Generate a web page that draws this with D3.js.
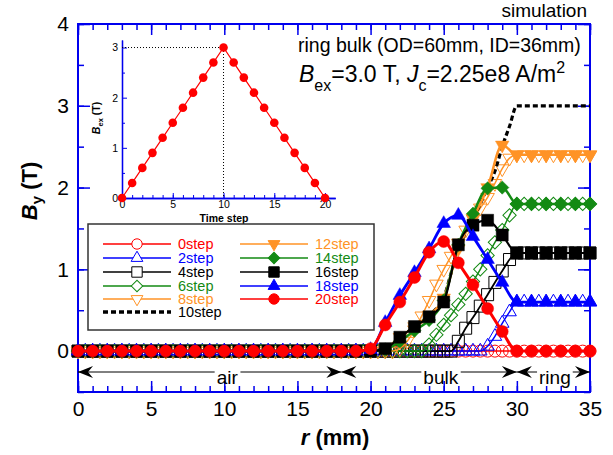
<!DOCTYPE html>
<html lang="en">
<head>
<meta charset="UTF-8">
<title>B_y profiles, ring bulk simulation</title>
<script src="https://d3js.org/d3.v7.min.js"></script>
<style>
  body { margin: 0; background: #fff; }
  svg { display: block; font-family: "Liberation Sans", Arial, Helvetica, sans-serif; }
</style>
</head>
<body>
<svg id="chart" width="613" height="455"></svg>
<script>
// radius grids (mm)
const rHalf = [0,0.5,1,1.5,2,2.5,3,3.5,4,4.5,5,5.5,6,6.5,7,7.5,8,8.5,9,9.5,
  10,10.5,11,11.5,12,12.5,13,13.5,14,14.5,15,15.5,16,16.5,17,17.5,18,18.5,19,19.5,
  20,20.5,21,21.5,22,22.5,23,23.5,24,24.5,25,25.5,26,26.5,27,27.5,28,28.5,29,29.5,
  30,30.5,31,31.5,32,32.5,33,33.5,34,34.5,35];
const rInt = [0,1,2,3,4,5,6,7,8,9,10,11,12,13,14,15,16,17,18,19,
  20,21,22,23,24,25,26,27,28,29,30,31,32,33,34,35];

// increasing field (on rHalf)
const step0 = [0,0,0,0,0,0,0,0,0,0, 0,0,0,0,0,0,0,0,0,0, 0,0,0,0,0,0,0,0,0,0, 0,0,0,0,0,0,0,0,0,0,
  0,0,0,0,0,0,0,0,0,0, 0,0,0,0,0,0,0,0,0,0,
  0,0,0,0,0,0,0,0,0,0,0];
const step2 = [0,0,0,0,0,0,0,0,0,0, 0,0,0,0,0,0,0,0,0,0, 0,0,0,0,0,0,0,0,0,0, 0,0,0,0,0,0,0,0,0,0,
  0,0,0,0,0,0,0,0,0,0, 0,0,0,0,0,0,0.06,0.18,0.34,0.48,
  0.6,0.6,0.6,0.6,0.6,0.6,0.6,0.6,0.6,0.6,0.6];
const step4 = [0,0,0,0,0,0,0,0,0,0, 0,0,0,0,0,0,0,0,0,0, 0,0,0,0,0,0,0,0,0,0, 0,0,0,0,0,0,0,0,0,0,
  0,0,0,0,0,0,0,0,0,0, 0,0,0.12,0.28,0.41,0.55,0.69,0.84,0.98,1.12,
  1.2,1.2,1.2,1.2,1.2,1.2,1.2,1.2,1.2,1.2,1.2];
const step6 = [0,0,0,0,0,0,0,0,0,0, 0,0,0,0,0,0,0,0,0,0, 0,0,0,0,0,0,0,0,0,0, 0,0,0,0,0,0,0,0,0,0,
  0,0,0,0,0,0,0,0,0.08,0.2, 0.32,0.44,0.57,0.7,0.85,1.0,1.17,1.33,1.48,1.66,
  1.8,1.8,1.8,1.8,1.8,1.8,1.8,1.8,1.8,1.8,1.8];
const step8 = [0,0,0,0,0,0,0,0,0,0, 0,0,0,0,0,0,0,0,0,0, 0,0,0,0,0,0,0,0,0,0, 0,0,0,0,0,0,0,0,0,0,
  0,0,0,0,0.03,0.12,0.26,0.43,0.62,0.82, 1.0,1.16,1.32,1.48,1.62,1.75,1.88,2.05,2.23,2.36,
  2.4,2.4,2.4,2.4,2.4,2.4,2.4,2.4,2.4,2.4,2.4];
const step10 = [0,0,0,0,0,0,0,0,0,0, 0,0,0,0,0,0,0,0,0,0, 0,0,0,0,0,0,0,0,0,0, 0,0,0,0,0,0,0,0,0,0,
  0,0.01,0.03,0.09,0.17,0.23,0.3,0.36,0.44,0.52, 0.65,0.95,1.25,1.45,1.62,1.8,2.0,2.2,2.5,2.75,
  3,3,3,3,3,3,3,3,3,3,3];

// decreasing field (on rInt)
const step12 = [0,0,0,0,0,0,0,0,0,0, 0,0,0,0,0,0,0,0,0,0,
  0,0.03,0.17,0.3,0.44,0.65,1.25,1.62,2.0,2.52, 2.4,2.4,2.4,2.4,2.4,2.4];
const step14 = [0,0,0,0,0,0,0,0,0,0, 0,0,0,0,0,0,0,0,0,0,
  0,0.02,0.12,0.25,0.38,0.62,1.3,1.68,1.99,2.0, 1.8,1.8,1.8,1.8,1.8,1.8];
const step16 = [0,0,0,0,0,0,0,0,0,0, 0,0,0,0,0,0,0,0,0,0,
  0,0.03,0.17,0.3,0.42,0.6,1.3,1.54,1.6,1.42, 1.2,1.2,1.2,1.2,1.2,1.2];
const step18 = [0,0,0,0,0,0,0,0,0,0, 0,0,0,0,0,0,0,0,0,0,
  0.02,0.35,0.68,0.96,1.25,1.56,1.66,1.4,1.12,0.84, 0.6,0.6,0.6,0.6,0.6,0.6];
const step20 = [0,0,0,0,0,0,0,0,0,0, 0,0,0,0,0,0,0,0,0,0,
  0.03,0.32,0.6,0.9,1.21,1.34,1.08,0.81,0.52,0.24, 0,0,0,0,0,0];

const stepNames = ["0step","2step","4step","6step","8step","10step","12step","14step","16step","18step","20step"];

// inset: applied field per time step
const timeSteps = [0,1,2,3,4,5,6,7,8,9,10,11,12,13,14,15,16,17,18,19,20];
const bexValues = [0,0.3,0.6,0.9,1.2,1.5,1.8,2.1,2.4,2.7,3.0,2.7,2.4,2.1,1.8,1.5,1.2,0.9,0.6,0.3,0];

// annotation regions under the curves
const regionNames = ["air","bulk","ring"];
const regionFrom = [0,18,30];
const regionTo = [18,30,35];
const regionLabelAt = [10.2,24.8,32.6];

const xTicks = [0,5,10,15,20,25,30,35];
const yTicks = [0,1,2,3,4];

const RED = "#ff0000", BLUE = "#0000ff", BLACK = "#000000", GREEN = "#138a13", ORANGE = "#ff9326";
const AXIS = "#0000ee";

const series = [
  {name: stepNames[0],  r: rHalf, v: step0,  color: RED,    mark: "circle",   fill: false, w: 1.5},
  {name: stepNames[1],  r: rHalf, v: step2,  color: BLUE,   mark: "triUp",    fill: false, w: 1.5},
  {name: stepNames[2],  r: rHalf, v: step4,  color: BLACK,  mark: "square",   fill: false, w: 1.8},
  {name: stepNames[3],  r: rHalf, v: step6,  color: GREEN,  mark: "diamond",  fill: false, w: 1.5},
  {name: stepNames[4],  r: rHalf, v: step8,  color: ORANGE, mark: "triDown",  fill: false, w: 1.5},
  {name: stepNames[5],  r: rHalf, v: step10, color: BLACK,  mark: null,       fill: false, w: 3.2, dash: "5,3"},
  {name: stepNames[6],  r: rInt,  v: step12, color: ORANGE, mark: "triDown",  fill: true,  w: 2.5},
  {name: stepNames[7],  r: rInt,  v: step14, color: GREEN,  mark: "diamond",  fill: true,  w: 2.5},
  {name: stepNames[8],  r: rInt,  v: step16, color: BLACK,  mark: "square",   fill: true,  w: 2.2},
  {name: stepNames[9],  r: rInt,  v: step18, color: BLUE,   mark: "triUp",    fill: true,  w: 2.8},
  {name: stepNames[10], r: rInt,  v: step20, color: RED,    mark: "circle",   fill: true,  w: 3}
];

const svg = d3.select("#chart");
const x = d3.scaleLinear().domain([0, 35]).range([78, 590]);
const y = d3.scaleLinear().domain([-0.5, 4]).range([392, 24]);

function symbolPath(mark, k) {
  // k scales marker size (legend uses smaller ones)
  if (mark === "circle") return d3.symbol(d3.symbolCircle, 113 * k)();
  if (mark === "square") return d3.symbol(d3.symbolSquare, 144 * k)();
  if (mark === "diamond") return d3.symbol(d3.symbolSquare, 88 * k)();
  return d3.symbol(d3.symbolTriangle, 80 * k)();
}
function symbolRot(mark) {
  if (mark === "diamond") return 45;
  if (mark === "triDown") return 180;
  return 0;
}

// ---- main axes frame and ticks
const axes = svg.append("g");
function styleAxis(sel) {
  sel.select(".domain").remove();
  sel.selectAll(".tick line").attr("stroke", AXIS).attr("stroke-width", 1.5);
  sel.selectAll(".tick text").attr("fill", "#000").style("font-size", "21px")
     .style("font-family", "'Liberation Sans', Arial, sans-serif");
}
const xMinor = d3.range(0, 36, 1);
const yMinor = d3.range(-0.5, 4.01, 0.5);

axes.append("g").attr("transform", "translate(0,392)")
  .call(d3.axisBottom(x).tickValues(xMinor).tickSizeInner(-6).tickSizeOuter(0).tickFormat(""))
  .call(styleAxis);
axes.append("g").attr("transform", "translate(0,392)")
  .call(d3.axisBottom(x).tickValues(xTicks).tickSizeInner(-11).tickSizeOuter(0).tickPadding(9).tickFormat(d3.format("d")))
  .call(styleAxis);
axes.append("g").attr("transform", "translate(0,24)")
  .call(d3.axisTop(x).tickValues(xMinor).tickSizeInner(-6).tickSizeOuter(0).tickFormat(""))
  .call(styleAxis);
axes.append("g").attr("transform", "translate(0,24)")
  .call(d3.axisTop(x).tickValues(xTicks).tickSizeInner(-11).tickSizeOuter(0).tickFormat(""))
  .call(styleAxis);
axes.append("g").attr("transform", "translate(78,0)")
  .call(d3.axisLeft(y).tickValues(yMinor).tickSizeInner(-6).tickSizeOuter(0).tickFormat(""))
  .call(styleAxis);
axes.append("g").attr("transform", "translate(78,0)")
  .call(d3.axisLeft(y).tickValues(yTicks).tickSizeInner(-12).tickSizeOuter(0).tickPadding(9).tickFormat(d3.format("d")))
  .call(styleAxis);
axes.append("g").attr("transform", "translate(590,0)")
  .call(d3.axisRight(y).tickValues(yMinor).tickSizeInner(-6).tickSizeOuter(0).tickFormat(""))
  .call(styleAxis);
axes.append("g").attr("transform", "translate(590,0)")
  .call(d3.axisRight(y).tickValues(yTicks).tickSizeInner(-12).tickSizeOuter(0).tickFormat(""))
  .call(styleAxis);
axes.append("rect").attr("x", 78).attr("y", 24).attr("width", 512).attr("height", 368)
  .attr("fill", "none").attr("stroke", AXIS).attr("stroke-width", 2);

// axis titles
svg.append("text").attr("x", 335).attr("y", 445).attr("text-anchor", "middle")
  .style("font-size", "22px").style("font-weight", "bold")
  .call(t => {
    t.append("tspan").style("font-style", "italic").text("r");
    t.append("tspan").text(" (mm)");
  });
svg.append("text").attr("transform", "translate(37,191) rotate(-90)").attr("text-anchor", "middle")
  .style("font-size", "22px").style("font-weight", "bold")
  .call(t => {
    t.append("tspan").style("font-style", "italic").text("B");
    t.append("tspan").attr("dy", 5).style("font-size", "15px").text("y");
    t.append("tspan").attr("dy", -5).text(" (T)");
  });

// ---- inset: applied field vs time step
const xi = d3.scaleLinear().domain([0, 21]).range([122, 335.2]);
const yi = d3.scaleLinear().domain([0, 3.15]).range([198, 40]);
const inset = svg.append("g");
function styleInset(sel) {
  sel.select(".domain").attr("stroke", AXIS).attr("stroke-width", 1.3);
  sel.selectAll(".tick line").attr("stroke", AXIS).attr("stroke-width", 1);
  sel.selectAll(".tick text").attr("fill", "#000").style("font-size", "10.5px")
     .style("font-family", "'Liberation Sans', Arial, sans-serif");
}
inset.append("g").attr("transform", "translate(0,198)")
  .call(d3.axisBottom(xi).tickValues(d3.range(0, 21, 1)).tickSizeInner(-3).tickSizeOuter(0).tickFormat(""))
  .call(styleInset);
inset.append("g").attr("transform", "translate(0,198)")
  .call(d3.axisBottom(xi).tickValues([0,5,10,15,20]).tickSizeInner(-5).tickSizeOuter(0).tickPadding(3).tickFormat(d3.format("d")))
  .call(styleInset);
inset.append("g").attr("transform", "translate(122,0)")
  .call(d3.axisLeft(yi).tickValues([0.5,1.5,2.5]).tickSizeInner(-3).tickSizeOuter(0).tickFormat(""))
  .call(styleInset);
inset.append("g").attr("transform", "translate(122,0)")
  .call(d3.axisLeft(yi).tickValues([0,1,2,3]).tickSizeInner(-5).tickSizeOuter(0).tickPadding(4).tickFormat(d3.format("d")))
  .call(styleInset);

const peakIdx = d3.maxIndex(bexValues);
inset.append("path")
  .attr("d", `M${xi(0)},${yi(bexValues[peakIdx])}H${xi(timeSteps[peakIdx])}V${yi(0)}`)
  .attr("fill", "none").attr("stroke", "#000").attr("stroke-width", 1).attr("stroke-dasharray", "1,2");
inset.append("path").datum(timeSteps)
  .attr("d", d3.line().x(d => xi(d)).y((d, i) => yi(bexValues[i])))
  .attr("fill", "none").attr("stroke", RED).attr("stroke-width", 1.2);
inset.selectAll("circle.bex").data(timeSteps).join("circle")
  .attr("cx", d => xi(d)).attr("cy", (d, i) => yi(bexValues[i])).attr("r", 4.3).attr("fill", RED);
inset.append("text").attr("x", 224).attr("y", 222).attr("text-anchor", "middle")
  .style("font-size", "10.5px").style("font-weight", "bold").text("Time step");
inset.append("text").attr("transform", "translate(100,118) rotate(-90)").attr("text-anchor", "middle")
  .style("font-size", "10.5px").style("font-weight", "bold")
  .call(t => {
    t.append("tspan").style("font-style", "italic").text("B");
    t.append("tspan").attr("dy", 3).style("font-size", "7.5px").text("ex");
    t.append("tspan").attr("dy", -3).text(" (T)");
  });

// ---- curves
const plot = svg.append("g");
const lineGen = d3.line().curve(d3.curveMonotoneX);
series.forEach(s => {
  const pts = s.r.map((r, i) => [x(r), y(s.v[i])]);
  plot.append("path").attr("d", lineGen(pts))
    .attr("fill", "none").attr("stroke", s.color).attr("stroke-width", s.w)
    .attr("stroke-dasharray", s.dash || null);
  if (!s.mark) return;
  plot.append("g").selectAll("path").data(pts).join("path")
    .attr("d", symbolPath(s.mark, 1))
    .attr("transform", d => `translate(${d[0]},${d[1]}) rotate(${symbolRot(s.mark)})`)
    .attr("fill", s.fill ? s.color : "none")
    .attr("stroke", s.color).attr("stroke-width", s.fill ? 0.5 : 1);
});

// ---- region arrows
const arrowY = 372;
const notes = svg.append("g");
function head(tx, dir) {
  return `M${tx},${arrowY}L${tx - dir * 15},${arrowY - 6}L${tx - dir * 10},${arrowY}L${tx - dir * 15},${arrowY + 6}Z`;
}
regionNames.forEach((name, i) => {
  const x0 = x(regionFrom[i]), x1 = x(regionTo[i]);
  notes.append("line").attr("x1", x0).attr("x2", x1).attr("y1", arrowY).attr("y2", arrowY)
    .attr("stroke", "#000").attr("stroke-width", 1);
  notes.append("path").attr("d", head(x0, -1)).attr("fill", "#000");
  notes.append("path").attr("d", head(x1, 1)).attr("fill", "#000");
  const t = notes.append("text").attr("x", x(regionLabelAt[i])).attr("y", arrowY + 12)
    .attr("text-anchor", "middle").style("font-size", "19px").text(name);
  const bb = t.node().getBBox();
  notes.insert("rect", () => t.node()).attr("x", bb.x - 2).attr("y", arrowY - 2)
    .attr("width", bb.width + 4).attr("height", 4).attr("fill", "#fff");
});

// ---- legend
const legend = svg.append("g");
legend.append("rect").attr("x", 88).attr("y", 224).attr("width", 286).attr("height", 106)
  .attr("fill", "#fff").attr("stroke", "#333").attr("stroke-width", 1.5);
const legRowY = [244, 258, 272, 286, 299, 312];
series.forEach((s, i) => {
  const col = i < 6 ? 0 : 1;
  const row = col === 0 ? i : i - 6;
  const lx = col === 0 ? 103 : 240;
  const ly = legRowY[row];
  legend.append("line").attr("x1", lx).attr("x2", lx + 68).attr("y1", ly).attr("y2", ly)
    .attr("stroke", s.color).attr("stroke-width", s.dash ? 3.5 : 1.6)
    .attr("stroke-dasharray", s.dash || null);
  if (s.mark) {
    legend.append("path").attr("d", symbolPath(s.mark, 0.75))
      .attr("transform", `translate(${lx + 34},${ly}) rotate(${symbolRot(s.mark)})`)
      .attr("fill", s.fill ? s.color : "#fff").attr("stroke", s.color).attr("stroke-width", 1);
  }
  legend.append("text").attr("x", lx + 75).attr("y", ly).attr("dy", "0.36em")
    .style("font-size", "14.5px").attr("fill", s.color).text(s.name);
});

// ---- labels top right
svg.append("text").attr("x", 587).attr("y", 17).attr("text-anchor", "end")
  .style("font-size", "19px").text("simulation");
svg.append("text").attr("x", 298).attr("y", 52)
  .style("font-size", "19.5px").text("ring bulk (OD=60mm, ID=36mm)");
svg.append("text").attr("x", 299).attr("y", 82).style("font-size", "23px")
  .call(t => {
    t.append("tspan").style("font-style", "italic").text("B");
    t.append("tspan").attr("dy", 9).style("font-size", "16px").text("ex");
    t.append("tspan").attr("dy", -9).text("=3.0 T, ");
    t.append("tspan").style("font-style", "italic").text("J");
    t.append("tspan").attr("dy", 9).style("font-size", "16px").text("c");
    t.append("tspan").attr("dy", -9).text("=2.25e8 A/m");
    t.append("tspan").attr("dy", -9).style("font-size", "16px").text("2");
  });
</script>
</body>
</html>
